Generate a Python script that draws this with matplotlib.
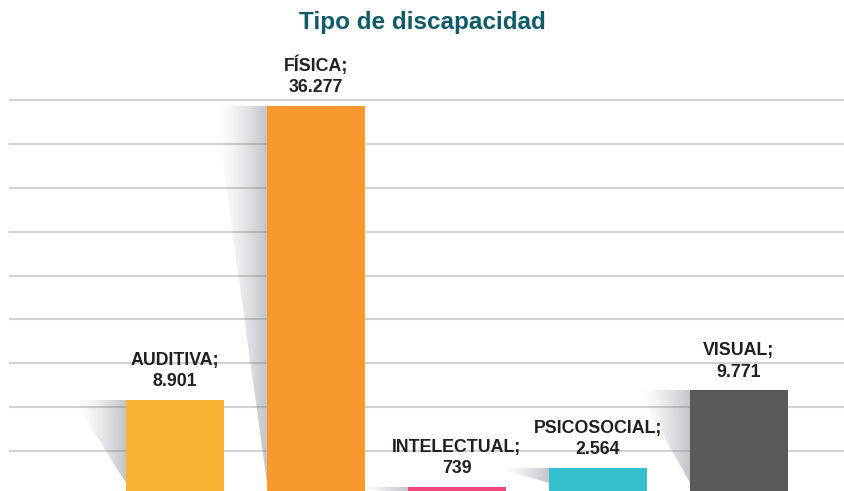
import numpy as np
import matplotlib
matplotlib.use("Agg")
import matplotlib.pyplot as plt
from matplotlib.patches import Polygon

categories = ["AUDITIVA", "FÍSICA", "INTELECTUAL", "PSICOSOCIAL", "VISUAL"]
values = [8901, 36277, 739, 2564, 9771]
colors = ["#FBB333", "#F7992F", "#F0467C", "#33BFCB", "#58595B"]
title = "Tipo de discapacidad"

plt.rcParams['font.family'] = ['Liberation Sans', 'DejaVu Sans']

W, H = 845, 491
fig = plt.figure(figsize=(W / 100, H / 100), dpi=100)
ax = fig.add_axes([10 / W, -4 / H, 835 / W, 395 / H])

ymax = 36850
bar_w = 0.69
x = np.arange(len(categories))

ax.set_xlim((10 - 175) / 141, (845 - 175) / 141)
ax.set_ylim(0, ymax)

# gridlines
for k in range(1, 10):
    ax.axhline(ymax * k / 9, color="#D2D2D2", lw=1.5, zorder=0, clip_on=False)

# shadows
grad = np.zeros((2, 256, 4))
t = np.linspace(0, 1, 256) ** 1.5
grad[..., 0] = 0.45
grad[..., 1] = 0.47
grad[..., 2] = 0.51
grad[..., 3] = t * 0.45
for xi, v in zip(x, values):
    x0 = xi - bar_w / 2
    sw = 0.37
    ybot = ymax * 0.03 if v > ymax * 0.05 else 0
    poly = Polygon([(x0 - sw, v), (x0, v), (x0, ybot)], closed=True,
                   transform=ax.transData, facecolor="none", edgecolor="none")
    ax.add_patch(poly)
    im = ax.imshow(grad, extent=(x0 - sw, x0, 0, v), aspect="auto",
                   origin="lower", zorder=1, interpolation="bilinear")
    im.set_clip_path(poly)

ax.bar(x, values, width=bar_w, color=colors, zorder=2)

for xi, c, v in zip(x, categories, values):
    label = f"{c};\n{v:,}".replace(",", ".")
    ax.annotate(label, xy=(xi, v), xytext=(0, 7), textcoords="offset points",
                ha="center", va="bottom", fontsize=12.8, fontweight="bold",
                color="#231F20", linespacing=1.32, annotation_clip=False)

ax.set_xlim((10 - 175) / 141, (845 - 175) / 141)
ax.set_ylim(0, ymax)
ax.axis("off")

fig.text(0.5, 1 - 23 / H, title, ha="center", va="center", fontsize=17.5,
         fontweight="bold", color="#0E5A66")

fig.savefig("out.png", dpi=100)
